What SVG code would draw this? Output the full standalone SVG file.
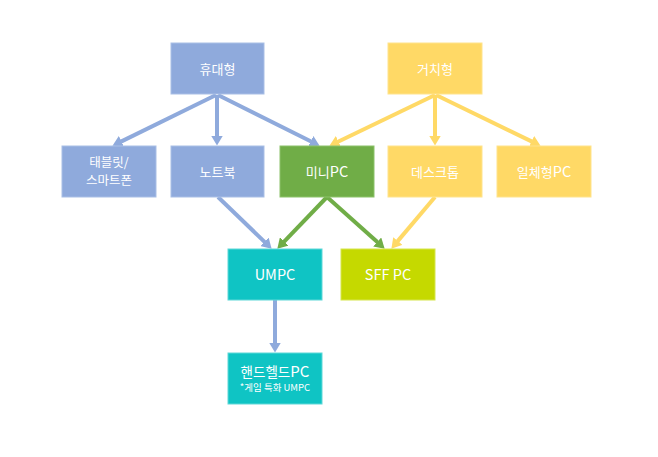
<svg xmlns="http://www.w3.org/2000/svg" width="658" height="457" viewBox="0 0 658 457">
<style>
.t{font-family:"Noto Sans CJK KR","Noto Sans",sans-serif;fill:#fff;text-anchor:middle;font-size:13px}
.l{font-size:14.5px}
.blue{fill:#8FAADC;stroke:#A9BFE6;stroke-width:1}
.yel{fill:#FFD966;stroke:#FFE38C;stroke-width:1}
.grn{fill:#70AD47;stroke:#8CC26A;stroke-width:1}
.teal{fill:#0FC4C4;stroke:#5ED8D8;stroke-width:1}
.lime{fill:#C5D900;stroke:#D6E54D;stroke-width:1}
.c{fill:none;stroke-width:4}
.cb{stroke:#8FAADC;marker-end:url(#ab)}
.cy{stroke:#FFD966;marker-end:url(#ay)}
.cg{stroke:#70AD47;marker-end:url(#ag)}
</style>
<defs>
<marker id="ab" markerUnits="userSpaceOnUse" markerWidth="10" markerHeight="12" viewBox="0 0 10 12" refX="0.5" refY="6" orient="auto"><path d="M0,0 L10,6 L0,12 z" fill="#8FAADC"/></marker>
<marker id="ay" markerUnits="userSpaceOnUse" markerWidth="10" markerHeight="12" viewBox="0 0 10 12" refX="0.5" refY="6" orient="auto"><path d="M0,0 L10,6 L0,12 z" fill="#FFD966"/></marker>
<marker id="ag" markerUnits="userSpaceOnUse" markerWidth="10" markerHeight="12" viewBox="0 0 10 12" refX="0.5" refY="6" orient="auto"><path d="M0,0 L10,6 L0,12 z" fill="#70AD47"/></marker>
</defs>
<rect width="658" height="457" fill="#fff"/>
<g id="connectors">
<line class="c cb" x1="216" y1="95" x2="121" y2="141.6"/>
<line class="c cb" x1="217" y1="95" x2="217" y2="136"/>
<line class="c cb" x1="218" y1="95" x2="311.1" y2="141.5"/>
<line class="c cy" x1="435" y1="95" x2="338" y2="141.7"/>
<line class="c cy" x1="435" y1="95" x2="435" y2="136"/>
<line class="c cy" x1="436" y1="95" x2="532" y2="141.6"/>
<line class="c cb" x1="218" y1="197" x2="264.8" y2="242.1"/>
<line class="c cg" x1="327" y1="197" x2="283.9" y2="241.8"/>
<line class="c cg" x1="327" y1="197" x2="377.6" y2="242.3"/>
<line class="c cy" x1="435" y1="197" x2="397.5" y2="241.4"/>
<line class="c cb" x1="275" y1="300" x2="275" y2="343"/>
</g>
<g id="n-portable"><rect class="blue" x="171" y="43" width="93" height="51"/><text class="t" x="217.5" y="73.5">휴대형</text></g>
<g id="n-stationary"><rect class="yel" x="388" y="43" width="94" height="51"/><text class="t" x="435" y="73.5">거치형</text></g>
<g id="n-tablet"><rect class="blue" x="62" y="146" width="94" height="51"/><text class="t" x="109" y="167" style="font-size:12.5px">태블릿/</text><text class="t" x="109" y="185" style="font-size:12.5px">스마트폰</text></g>
<g id="n-notebook"><rect class="blue" x="171" y="146" width="93" height="51"/><text class="t" x="217.5" y="176.5">노트북</text></g>
<g id="n-minipc"><rect class="grn" x="280" y="146" width="94" height="51"/><text class="t" x="327" y="176.5">미니<tspan class="l">PC</tspan></text></g>
<g id="n-desktop"><rect class="yel" x="388" y="146" width="94" height="51"/><text class="t" x="435" y="176.5">데스크톱</text></g>
<g id="n-aio"><rect class="yel" x="497" y="146" width="94" height="51"/><text class="t" x="544" y="176.5">일체형<tspan class="l">PC</tspan></text></g>
<g id="n-umpc"><rect class="teal" x="228" y="249" width="94" height="51"/><text class="t l" x="275" y="280">UMPC</text></g>
<g id="n-sff"><rect class="lime" x="341" y="249" width="94" height="51"/><text class="t l" x="388" y="280">SFF PC</text></g>
<g id="n-handheld"><rect class="teal" x="228" y="353" width="94" height="51"/><text class="t" x="275" y="377" style="font-size:13.5px">핸드헬드<tspan style="font-size:15px">PC</tspan></text><text class="t" x="275" y="391" style="font-size:9.5px">*게임 특화 UMPC</text></g>
</svg>
